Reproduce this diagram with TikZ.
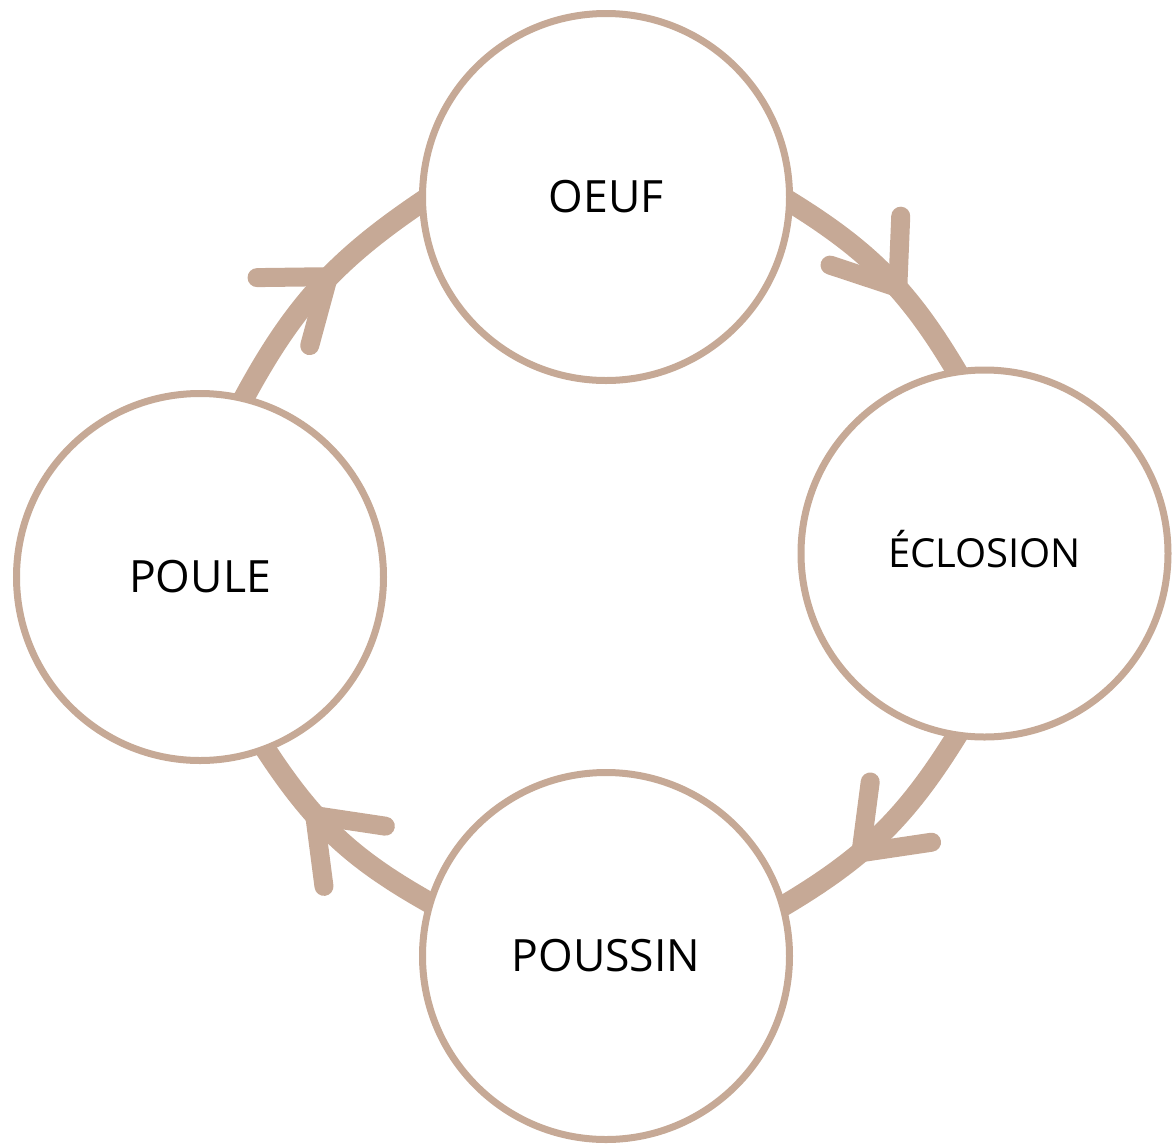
\documentclass[tikz,border=0pt]{standalone}
\usepackage{fontspec}
\setmainfont{Open Sans}
\usetikzlibrary{decorations.markings,backgrounds}
\definecolor{clay}{RGB}{198,169,150}
\tikzset{
  stage/.style={circle, draw=clay, line width=7pt, fill=white, inner sep=0pt,
    minimum size=367pt, text=black, text height=31.4pt, text depth=0pt,
    font=\fontsize{44.5}{48}\selectfont},
  chev/.style={draw=clay, line width=19pt, line cap=round, line join=round,
    shorten <=0pt, shorten >=0pt},
  cyclearrow/.style 2 args={draw=clay, line width=21pt, bend left=14,
    shorten <=-8pt, shorten >=-8pt, postaction={decorate},
    decoration={markings, mark=at position #1 with
      {\draw[chev, rotate=#2] (-57,43) -- (0,0) -- (-57,-43);}}},
}
\begin{document}
\begin{tikzpicture}[x=1pt,y=-1pt]
  \useasboundingbox (0,0) rectangle (1173,1144);
  \node[stage] (oeuf) at (606,197) {OEUF};
  \node[stage, font=\fontsize{40}{44}\selectfont, text height=28.6pt] (eclo) at (984.5,553.5) {ÉCLOSION};
  \node[stage] (poussin) at (606,956) {POUSSIN};
  \node[stage] (poule) at (200,577) {POULE};
  \begin{scope}[on background layer]
    \draw[cyclearrow={0.575}{-7}] (oeuf.-2) to (eclo.99);
    \draw[cyclearrow={0.62}{5.5}] (eclo.261) to (poussin.16.6);
    \draw[cyclearrow={0.64}{2.7}] (poussin.163.6) to (poule.-69.7);
    \draw[cyclearrow={0.555}{-8}] (poule.76.8) to (oeuf.182.4);
  \end{scope}
\end{tikzpicture}
\end{document}
